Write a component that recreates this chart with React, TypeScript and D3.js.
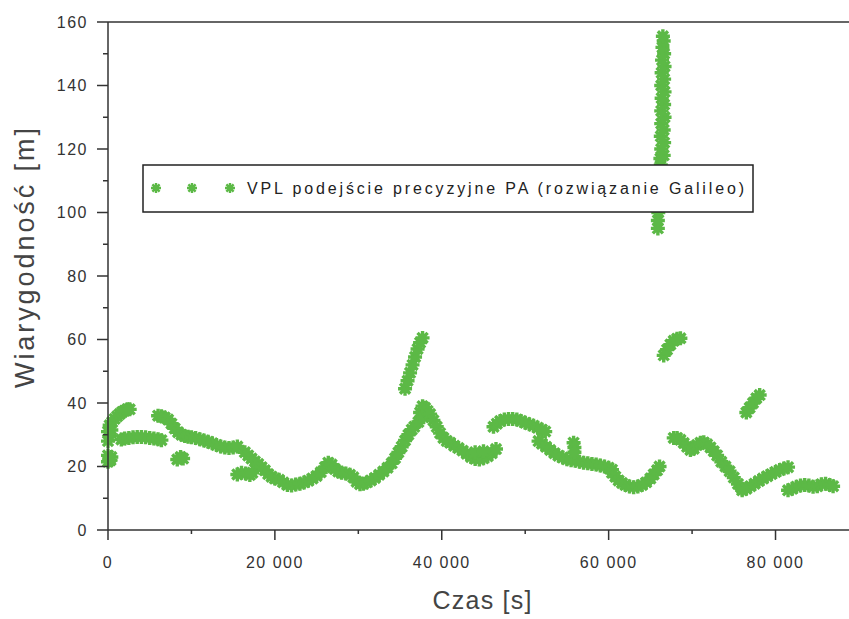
import React from "react";
import * as d3 from "d3";

type P = [number, number];

const xTicks = [0, 20000, 40000, 60000, 80000];
const xMinorTicks = [10000, 30000, 50000, 70000];
const yTicks = [0, 20, 40, 60, 80, 100, 120, 140, 160];
const yMinorTicks = [10, 30, 50, 70, 90, 110, 130, 150];

const legendLabel = "VPL podejście precyzyjne PA (rozwiązanie Galileo)";
const xTitle = "Czas [s]";
const yTitle = "Wiarygodność [m]";

const segStartLow: P[] = [[0, 21.5], [0, 23.5], [300, 22], [400, 23]];
const segStartRise: P[] = [[0, 28], [0, 31], [200, 29.5], [200, 33], [400, 31.5], [500, 34], [800, 35], [1100, 35.8], [1400, 36.5], [1700, 37.2], [2000, 37.6], [2300, 38], [2600, 38]];
const segFlat: P[] = [[1600, 28.5], [2000, 28.8], [2500, 29], [3000, 29.2], [3500, 29.3], [4000, 29.3], [4500, 29.2], [5000, 29], [5500, 28.8], [6000, 28.6], [6400, 28.3]];
const segDesc1: P[] = [[6000, 36], [6400, 35.8], [6800, 35.4], [7200, 34.8], [7600, 33.5], [8000, 32], [8400, 30.8], [8800, 30], [9200, 29.6], [9600, 29.4], [10000, 29.2], [10500, 29], [11000, 28.6], [11500, 28.2], [12000, 27.8], [12500, 27.3], [13000, 26.8], [13500, 26.3], [14000, 26], [14500, 25.8], [15000, 26], [15500, 26.3]];
const segDot1: P[] = [[8300, 22.2], [8700, 23], [9000, 22.5]];
const segDot2: P[] = [[15500, 17.5], [16000, 18], [16500, 17.8], [17000, 17.3], [17300, 18]];
const segLong: P[] = [[16400, 24.5], [16800, 23.5], [17200, 22.5], [17600, 21.6], [18000, 20.8], [18400, 19.8], [18800, 18.8], [19200, 17.6], [19600, 16.8], [20000, 16.2], [20500, 15.8], [21000, 15], [21500, 14.2], [22000, 14], [22500, 14.3], [23000, 14.6], [23500, 15], [24000, 15.5], [24500, 16.2], [25000, 17], [25500, 18.2], [26000, 19.8], [26400, 21.2], [26800, 20.6], [27200, 19.2], [27600, 18.4], [28000, 18], [28500, 17.8], [29000, 17.4], [29400, 16.6], [29800, 15.2], [30200, 14.4], [30600, 14.6], [31000, 15], [31500, 15.6], [32000, 16.4], [32500, 17.4], [33000, 18.4], [33500, 19.6], [34000, 21], [34400, 22.6], [34800, 24.4], [35200, 26.2], [35600, 28.2], [36000, 30], [36400, 31.6], [36700, 32.5]];
const segUpper1: P[] = [[35600, 44.5], [35900, 47], [36200, 49.5], [36500, 52], [36800, 54.5], [37100, 57], [37400, 59], [37700, 60.5]];
const segDesc2: P[] = [[37200, 34], [37400, 37], [37700, 39], [38000, 38.5], [37800, 35.5], [38300, 37.5], [38600, 36.5], [39000, 34.5], [39400, 32.5], [39800, 30.5], [40200, 29], [40600, 28], [41000, 27.5], [41500, 26.5], [42000, 25.8], [42500, 25], [43000, 24], [43500, 23], [44000, 22.4], [44500, 22.2], [45000, 22.6], [45500, 23.2], [46000, 24.2], [46500, 25.5], [44000, 24.5], [45000, 24.8]];
const segHump: P[] = [[46200, 32.5], [46600, 33.5], [47000, 34.3], [47500, 34.8], [48000, 35], [48500, 35], [49000, 34.8], [49500, 34.3], [50000, 33.8], [50500, 33.3], [51000, 32.8], [51500, 32.2], [52000, 31.6], [52400, 31]];
const segDesc3: P[] = [[51600, 28], [52000, 27.2], [52500, 26.2], [53000, 25.2], [53500, 24.2], [54000, 23.4], [54500, 22.8], [55000, 22.3], [55500, 22], [56000, 21.8], [56500, 21.5], [57000, 21.2], [57500, 21], [58000, 20.8], [58500, 20.6], [59000, 20.3], [59500, 20], [60000, 19.6], [60400, 19]];
const segDot3: P[] = [[55800, 27.5], [55900, 26], [55900, 24.5]];
const segTrough: P[] = [[60400, 18], [60800, 16.8], [61200, 15.6], [61600, 14.8], [62000, 14.2], [62500, 13.7], [63000, 13.5], [63500, 13.7], [64000, 14.2], [64500, 15], [65000, 16.2], [65400, 17.5], [65800, 18.8], [66100, 20]];
const segSpike: P[] = [[65900, 95], [65900, 97.5], [65950, 100], [66000, 103], [66050, 106], [66100, 109], [66150, 112], [66250, 115], [66200, 117], [66600, 118], [66300, 120], [66650, 122], [66250, 124], [66600, 126], [66300, 128], [66700, 130], [66300, 132], [66650, 134], [66350, 136], [66700, 138], [66300, 140], [66650, 142], [66350, 144], [66700, 146], [66400, 148], [66650, 150], [66450, 152], [66600, 154], [66500, 155.5]];
const segUpper2: P[] = [[66600, 55], [67000, 56.8], [67400, 58.4], [67800, 59.6], [68200, 60.2], [68600, 60.4]];
const segDesc4: P[] = [[67800, 29], [68200, 29], [68600, 28.4], [69000, 27.4], [69400, 26.2], [69800, 25.2], [70200, 25.6], [70600, 26.8], [71000, 27.5], [71400, 27.6], [71800, 27], [72200, 26], [72600, 24.8], [73000, 23.5], [73500, 21.5], [74000, 20], [74500, 18.5], [75000, 16.5], [75500, 14.5], [76000, 13]];
const segRise: P[] = [[76000, 12.5], [76500, 13], [77000, 13.8], [77500, 14.6], [78000, 15.4], [78500, 16.2], [79000, 16.9], [79500, 17.6], [80000, 18.3], [80500, 18.9], [81000, 19.4], [81500, 19.8]];
const segUpper3: P[] = [[76500, 37], [76900, 38.5], [77300, 40], [77700, 41.5], [78100, 42.5]];
const segLast: P[] = [[81500, 12.5], [82000, 13], [82500, 13.6], [83000, 14], [83500, 14.2], [84000, 14], [84500, 13.6], [85000, 13.8], [85500, 14.4], [86000, 14.6], [86500, 14.2], [86900, 13.8]];

const allSegments: P[][] = [segStartLow, segStartRise, segFlat, segDesc1, segDot1, segDot2, segLong, segUpper1, segDesc2, segHump, segDesc3, segDot3, segTrough, segSpike, segUpper2, segDesc4, segRise, segUpper3, segLast];

const W = 849;
const H = 619;
const GREEN = "#5cb946";

function star(r: number) {
  const k = r * 0.72;
  return `M${-r},0L${r},0M0,${-r}L0,${r}M${-k},${-k}L${k},${k}M${-k},${k}L${k},${-k}`;
}

export default function App() {
  const x = d3.scaleLinear().domain([0, 88806]).range([108, 849]);
  const y = d3.scaleLinear().domain([0, 160]).range([530, 22]);
  const fmt = d3.formatLocale({ decimal: ".", thousands: " ", grouping: [3], currency: ["", ""] }).format(",");
  const dataMarker = star(7);
  const legendMarker = star(5);
  const points = allSegments.flat();
  const axisColor = "#333";
  const x0 = x(0);
  const y0 = y(0);
  return (
    <svg width={W} height={H} style={{ position: "fixed", left: 0, top: 0, background: "#fff" }} fontFamily="'Liberation Sans', Arial, sans-serif">
      <rect x={0} y={0} width={W} height={H} fill="#fff" />
      <g>
        {points.map((p, i) => (
          <path key={i} d={dataMarker} transform={`translate(${x(p[0])},${y(p[1])})`} stroke={GREEN} strokeWidth={3.4} fill="none" />
        ))}
      </g>
      <line x1={x0} x2={W} y1={y(160)} y2={y(160)} stroke={axisColor} strokeWidth={1.5} />
      <line x1={x0} x2={W} y1={y0} y2={y0} stroke={axisColor} strokeWidth={1.5} />
      <line x1={x0} x2={x0} y1={y(160)} y2={y0} stroke={axisColor} strokeWidth={1.5} />
      {yTicks.map((t) => (
        <g key={"yt" + t}>
          <line x1={x0 - 11} x2={x0} y1={y(t)} y2={y(t)} stroke={axisColor} strokeWidth={1.5} />
          <text x={x0 - 20} y={y(t)} dy="0.36em" textAnchor="end" fontSize={16} letterSpacing={1.5} fill="#333">{t}</text>
        </g>
      ))}
      {yMinorTicks.map((t) => (
        <line key={"ym" + t} x1={x0 - 5} x2={x0} y1={y(t)} y2={y(t)} stroke={axisColor} strokeWidth={1.5} />
      ))}
      {xTicks.map((t) => (
        <g key={"xt" + t}>
          <line x1={x(t)} x2={x(t)} y1={y0} y2={y0 + 10} stroke={axisColor} strokeWidth={1.5} />
          <text x={x(t)} y={568} textAnchor="middle" fontSize={16} letterSpacing={1.5} fill="#333">{fmt(t)}</text>
        </g>
      ))}
      {xMinorTicks.map((t) => (
        <line key={"xm" + t} x1={x(t)} x2={x(t)} y1={y0} y2={y0 + 4} stroke={axisColor} strokeWidth={1.5} />
      ))}
      <text x={482} y={609} textAnchor="middle" fontSize={25} fill="#444" textLength={99} lengthAdjust="spacing">{xTitle}</text>
      <text transform="translate(34,258) rotate(-90)" textAnchor="middle" fontSize={27} fill="#444" textLength={260} lengthAdjust="spacing">{yTitle}</text>
      <rect x={143} y={165} width={610} height={47} fill="#fff" stroke="#222" strokeWidth={1.5} />
      {[156, 192, 230].map((lx) => (
        <path key={"lg" + lx} d={legendMarker} transform={`translate(${lx},188)`} stroke={GREEN} strokeWidth={2.4} fill="none" />
      ))}
      <text x={247} y={194} fontSize={16} fill="#222" textLength={497} lengthAdjust="spacing">{legendLabel}</text>
    </svg>
  );
}
